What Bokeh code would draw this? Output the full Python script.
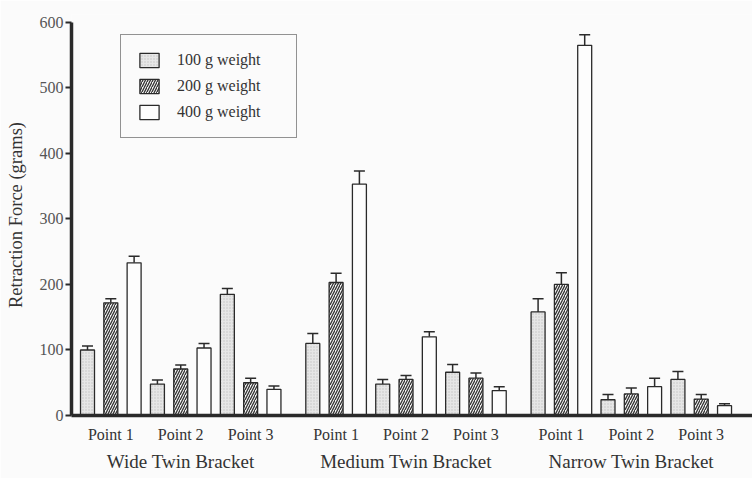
from bokeh.plotting import figure
from bokeh.models import (ColumnDataSource, Range1d, FixedTicker, LinearAxis,
                          Whisker, TeeHead, Legend, LegendItem)
from bokeh.embed import file_html
from bokeh.resources import INLINE

# ---------------- data ----------------
brackets = ["Wide Twin Bracket", "Medium Twin Bracket", "Narrow Twin Bracket"]
points = ["Point 1", "Point 2", "Point 3"]
weights = ["100 g weight", "200 g weight", "400 g weight"]

# values ordered bracket by bracket (Wide, Medium, Narrow), each Point 1..3
force_100 = [100, 48, 185, 110, 48, 66, 158, 24, 55]
err_100 = [6, 6, 9, 15, 7, 12, 20, 8, 12]
force_200 = [172, 71, 50, 203, 55, 57, 200, 33, 25]
err_200 = [6, 6, 7, 14, 6, 8, 18, 9, 7]
force_400 = [233, 103, 40, 353, 120, 38, 565, 44, 15]
err_400 = [10, 7, 5, 20, 8, 6, 16, 13, 3]

y_ticks = [0, 100, 200, 300, 400, 500, 600]

# ---------------- layout / style ----------------
BRACKET_STEP, POINT_STEP, BAR_STEP = 29, 9, 3
BAR_WIDTH = 1.8
BG = "#fbfbfb"
INK = "#2a2a2a"
TXT = "#333333"
FONT = "Liberation Serif"

p = figure(width=752, height=478,
           x_range=Range1d(-2.06, 85.6), y_range=Range1d(0, 612),
           output_backend="svg", toolbar_location=None,
           min_border_left=71, min_border_right=0, min_border_top=14,
           min_border_bottom=63,
           background_fill_color=BG, border_fill_color=BG,
           outline_line_color=None)
p.grid.visible = False

series = [
    (force_100, err_100, dict(fill_color="#e6e6e6", hatch_pattern="dot",
                              hatch_color="#c2c2c2", hatch_scale=3,
                              hatch_weight=0.7)),
    (force_200, err_200, dict(fill_color="#f4f4f4",
                              hatch_pattern="right_diagonal_line",
                              hatch_color="#333333", hatch_scale=5,
                              hatch_weight=1.3)),
    (force_400, err_400, dict(fill_color="#fdfdfd")),
]

renderers = []
for w, (vals, errs, style) in enumerate(series):
    xs = [b * BRACKET_STEP + pi * POINT_STEP + w * BAR_STEP
          for b in range(len(brackets)) for pi in range(len(points))]
    src = ColumnDataSource(dict(x=xs, top=vals,
                                upper=[v + e for v, e in zip(vals, errs)]))
    r = p.vbar(x="x", top="top", bottom=0, width=BAR_WIDTH, source=src,
               line_color=INK, line_width=1.3, **style)
    renderers.append(r)
    wh = Whisker(source=src, base="x", upper="upper", lower="top",
                 lower_head=None,
                 upper_head=TeeHead(size=11, line_color=INK, line_width=1.5),
                 line_color=INK, line_width=1.5)
    p.add_layout(wh)

# ---------------- axes ----------------
point_ticks = [b * BRACKET_STEP + pi * POINT_STEP + BAR_STEP
               for b in range(len(brackets)) for pi in range(len(points))]
xa = p.xaxis[0]
xa.ticker = FixedTicker(ticks=point_ticks)
xa.major_label_overrides = {t: points[i % 3] for i, t in enumerate(point_ticks)}
xa.axis_line_width = 3.5
xa.axis_line_color = INK
xa.major_tick_line_color = None
xa.minor_tick_line_color = None
xa.major_label_standoff = 4
xa.major_label_text_font = FONT
xa.major_label_text_font_size = "16px"
xa.major_label_text_color = TXT

bracket_ticks = [b * BRACKET_STEP + POINT_STEP + BAR_STEP
                 for b in range(len(brackets))]
xa2 = LinearAxis(ticker=FixedTicker(ticks=bracket_ticks),
                 major_label_overrides={t: brackets[i] for i, t in enumerate(bracket_ticks)},
                 axis_line_color=None, major_tick_line_color=None,
                 minor_tick_line_color=None, major_tick_out=0, major_tick_in=0,
                 major_label_standoff=5,
                 major_label_text_font=FONT, major_label_text_font_size="19px",
                 major_label_text_color=TXT)
p.add_layout(xa2, "below")

ya = p.yaxis[0]
ya.ticker = FixedTicker(ticks=y_ticks)
ya.bounds = (0, 600)
ya.axis_line_width = 3.5
ya.axis_line_color = INK
ya.major_tick_in = 0
ya.major_tick_out = 6
ya.major_tick_line_width = 2
ya.major_tick_line_color = INK
ya.minor_tick_line_color = None
ya.major_label_standoff = 2
ya.major_label_text_font = FONT
ya.major_label_text_font_size = "16px"
ya.major_label_text_color = "#555555"
ya.axis_label = "Retraction Force (grams)"
ya.axis_label_text_font = FONT
ya.axis_label_text_font_size = "18.5px"
ya.axis_label_text_font_style = "normal"
ya.axis_label_text_color = TXT
ya.axis_label_standoff = 11

# ---------------- legend ----------------
legend = Legend(items=[LegendItem(label=weights[i], renderers=[renderers[i]])
                       for i in range(3)],
                location=(49, 277), margin=0, padding=16, spacing=8,
                glyph_width=24, glyph_height=18, label_height=18,
                label_width=103, label_standoff=16,
                label_text_font=FONT, label_text_font_size="16px",
                label_text_color=TXT,
                border_line_color=INK, border_line_width=1.3,
                background_fill_color=BG, background_fill_alpha=1.0)
p.add_layout(legend)

open("out.html", "w").write(file_html(p, INLINE))
